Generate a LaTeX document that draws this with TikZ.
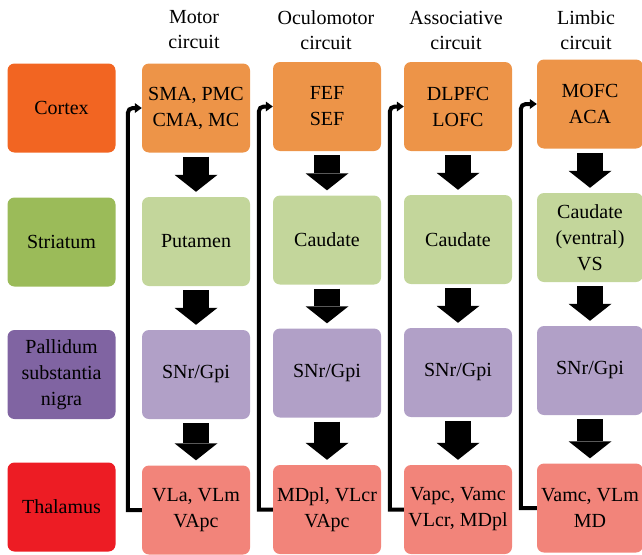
\documentclass[tikz,border=0pt]{standalone}
\usepackage{fontspec}
\setmainfont{Liberation Serif}
\usepackage{xcolor}
\usepackage{tikz}
\usetikzlibrary{arrows.meta,positioning}

\definecolor{cortexdark}{RGB}{242,101,34}
\definecolor{cortexlight}{RGB}{237,148,72}
\definecolor{striatdark}{RGB}{155,187,89}
\definecolor{striatlight}{RGB}{195,214,155}
\definecolor{pallidark}{RGB}{128,100,162}
\definecolor{pallilight}{RGB}{177,160,199}
\definecolor{thaldark}{RGB}{237,28,36}
\definecolor{thallight}{RGB}{242,132,122}

\tikzset{
    areabox/.style={
        rounded corners=7pt,
        minimum width=108pt,
        minimum height=89pt,
        inner sep=0pt,
        align=center,
        font=\fontsize{20}{26}\selectfont
    },
    heading/.style={
        align=center,
        inner sep=0pt,
        font=\fontsize{20}{25}\selectfont
    },
    blockarrow/.style={
        line width=26pt,
        shorten <=4pt,
        shorten >=5pt,
        -{Triangle[length=17pt 0,width=43pt 0,line width=0pt 0]}
    },
    loopback/.style={
        line width=4pt,
        -{Triangle[length=7pt 0,width=10pt 0,line width=0pt 0]}
    }
}

\begin{document}
\begin{tikzpicture}[x=1pt,y=-1pt]
    \useasboundingbox (0,0) rectangle (642,554);

    % headings
    \node[heading] (hmotor) at (194,30) {Motor\\circuit};
    \node[heading] (hoculo) at (326,30) {Oculomotor\\circuit};
    \node[heading] (hassoc) at (456,30) {Associative\\circuit};
    \node[heading] (hlimbic) at (586,30) {Limbic\\circuit};

    % row labels
    \node[areabox, fill=cortexdark] (lcortex) at (61.5,108) {Cortex};
    \node[areabox, fill=striatdark] (lstriat) at (61.5,242) {Striatum};
    \node[areabox, fill=pallidark] (lpalli) at (61.5,374.5) {Pallidum\\substantia\\nigra};
    \node[areabox, fill=thaldark] (lthal) at (61.5,507) {Thalamus};

    % motor circuit
    \node[areabox, fill=cortexlight] (mcortex) at (196,108) {SMA, PMC\\CMA, MC};
    \node[areabox, fill=striatlight] (mstriat) at (196,241.5) {Putamen};
    \node[areabox, fill=pallilight] (mpalli) at (196,374.5) {SNr/Gpi};
    \node[areabox, fill=thallight] (mthal) at (196,510) {VLa, VLm\\VApc};

    % oculomotor circuit
    \node[areabox, fill=cortexlight] (ocortex) at (327,106.5) {FEF\\SEF};
    \node[areabox, fill=striatlight] (ostriat) at (327,240) {Caudate};
    \node[areabox, fill=pallilight] (opalli) at (327,373) {SNr/Gpi};
    \node[areabox, fill=thallight] (othal) at (327,509.5) {MDpl, VLcr\\VApc};

    % associative circuit
    \node[areabox, fill=cortexlight] (acortex) at (458,106.5) {DLPFC\\LOFC};
    \node[areabox, fill=striatlight] (astriat) at (458,239.5) {Caudate};
    \node[areabox, fill=pallilight] (apalli) at (458,372.5) {SNr/Gpi};
    \node[areabox, fill=thallight] (athal) at (458,509.5) {Vapc, Vamc\\VLcr, MDpl};

    % limbic circuit
    \node[areabox, fill=cortexlight, minimum width=106pt] (bcortex) at (590,104) {MOFC\\ACA};
    \node[areabox, fill=striatlight, minimum width=106pt] (bstriat) at (590,237.5) {Caudate\\(ventral)\\VS};
    \node[areabox, fill=pallilight, minimum width=106pt] (bpalli) at (590,370.5) {SNr/Gpi};
    \node[areabox, fill=thallight, minimum width=106pt] (bthal) at (590,508) {Vamc, VLm\\MD};

    % block arrows down each circuit
    \draw[blockarrow] (mcortex) -- (mstriat);
    \draw[blockarrow] (mstriat) -- (mpalli);
    \draw[blockarrow] (mpalli) -- (mthal);
    \draw[blockarrow] (ocortex) -- (ostriat);
    \draw[blockarrow] (ostriat) -- (opalli);
    \draw[blockarrow] (opalli) -- (othal);
    \draw[blockarrow] (acortex) -- (astriat);
    \draw[blockarrow] (astriat) -- (apalli);
    \draw[blockarrow] (apalli) -- (athal);
    \draw[blockarrow] (bcortex) -- (bstriat);
    \draw[blockarrow] (bstriat) -- (bpalli);
    \draw[blockarrow] (bpalli) -- (bthal);

    % thalamus back to cortex
    \draw[loopback] (mthal.west) -- ++(-14,0) [rounded corners=5pt] |- (mcortex.west);
    \draw[loopback] (othal.west) -- ++(-14,0) [rounded corners=5pt] |- (ocortex.west);
    \draw[loopback] (athal.west) -- ++(-14,0) [rounded corners=5pt] |- (acortex.west);
    \draw[loopback] (bthal.west) -- ++(-16,0) [rounded corners=5pt] |- (bcortex.west);
\end{tikzpicture}
\end{document}
